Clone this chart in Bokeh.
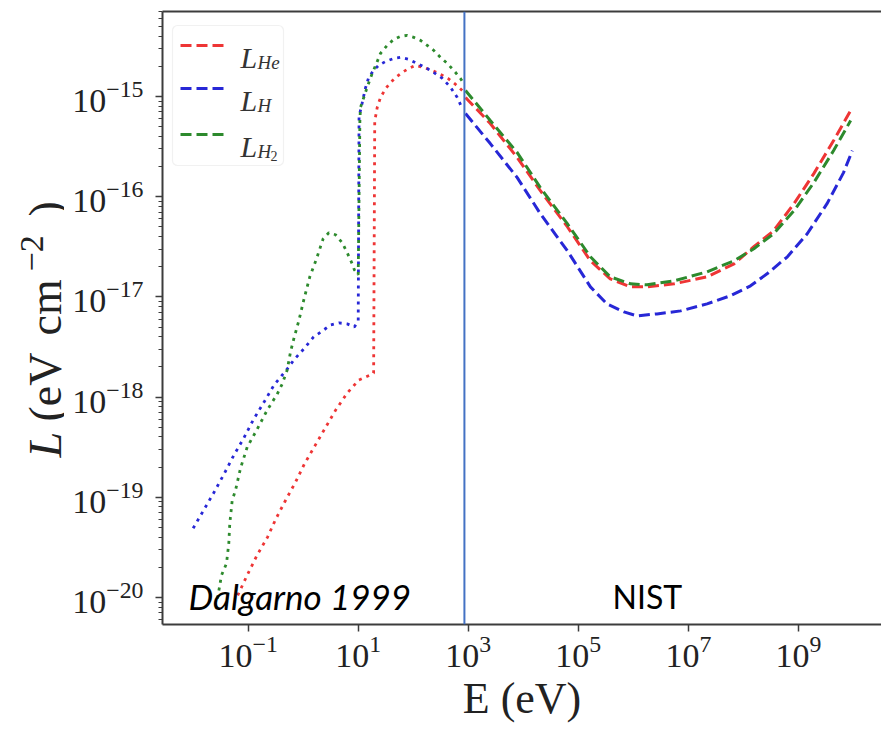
import math
import numpy as np
from bokeh.plotting import figure
from bokeh.layouts import row
from bokeh.models import (FixedTicker, Span, Label, BoxAnnotation, Arrow, LogAxis,
                          Range1d, LogTickFormatter)
from bokeh.embed import file_html
from bokeh.resources import INLINE

# ---------------- data (log10 E [eV], log10 L [eV cm^-2]) ----------------
# Dalgarno 1999 (dotted)
he_dal_logE = [-1.19, -1.02, -0.84, -0.65, -0.50, -0.32, -0.14, 0.02, 0.22, 0.41, 0.59, 0.80,
               1.01, 1.22, 1.28, 1.30, 1.345, 1.405, 1.50, 1.59, 1.68, 1.80, 1.92, 2.04, 2.19,
               2.34, 2.50, 2.63, 2.77, 2.89]
he_dal_logL = [-19.98, -19.78, -19.58, -19.40, -19.22, -19.03, -18.85, -18.67, -18.48, -18.30,
               -18.13, -17.96, -17.83, -17.78, -17.76, -15.25, -15.11, -15.01, -14.92, -14.86,
               -14.81, -14.76, -14.72, -14.69, -14.71, -14.74, -14.78, -14.82, -14.88, -14.94]

h_dal_logE = [-2.00, -1.81, -1.63, -1.44, -1.26, -1.08, -0.90, -0.70, -0.53, -0.29, -0.17, 0.01,
              0.19, 0.35, 0.50, 0.65, 0.80, 0.93, 1.00, 1.015, 1.07, 1.13, 1.19, 1.28, 1.37, 1.50,
              1.65, 1.77, 1.92, 2.07, 2.22, 2.37, 2.53, 2.68, 2.80, 2.89]
h_dal_logL = [-19.31, -19.13, -18.96, -18.77, -18.58, -18.41, -18.22, -18.04, -17.88, -17.72,
              -17.63, -17.52, -17.40, -17.34, -17.28, -17.26, -17.27, -17.30, -17.24, -15.20,
              -15.07, -14.92, -14.81, -14.74, -14.69, -14.65, -14.62, -14.61, -14.63, -14.67,
              -14.71, -14.76, -14.82, -14.91, -15.01, -15.12]

h2_dal_logE = [-1.557, -1.485, -1.394, -1.352, -1.334, -1.290, -1.230, -1.139, -1.018, -0.836,
               -0.654, -0.472, -0.382, -0.291, -0.231, -0.171, -0.080, 0.011, 0.120, 0.242, 0.363,
               0.466, 0.587, 0.709, 0.80, 0.89, 0.93, 1.00, 1.03, 1.041, 1.101, 1.174, 1.254,
               1.332, 1.405, 1.526, 1.646, 1.768, 1.890, 2.010, 2.132, 2.253, 2.373, 2.495, 2.617,
               2.737, 2.858, 2.918]
h2_dal_logL = [-20.01, -19.78, -19.66, -19.46, -19.26, -19.03, -18.93, -18.71, -18.50, -18.32,
               -18.13, -17.97, -17.87, -17.73, -17.55, -17.42, -17.24, -17.03, -16.80, -16.62,
               -16.42, -16.36, -16.38, -16.46, -16.56, -16.67, -16.73, -16.78, -15.25, -15.11,
               -15.01, -14.89, -14.77, -14.67, -14.57, -14.49, -14.43, -14.40, -14.39, -14.41,
               -14.44, -14.49, -14.54, -14.61, -14.67, -14.74, -14.82, -14.87]

# NIST (dashed)
he_nist_logE = [2.95, 3.40, 3.89, 4.31, 4.80, 5.22, 5.58, 5.95, 6.25, 6.74, 7.34, 7.83, 8.19,
                8.55, 8.92, 9.28, 9.64, 9.95]
he_nist_logL = [-15.01, -15.27, -15.61, -15.94, -16.30, -16.64, -16.82, -16.90, -16.90, -16.87,
                -16.80, -16.67, -16.50, -16.34, -16.07, -15.77, -15.44, -15.14]

h_nist_logE = [2.95, 3.40, 3.89, 4.31, 4.80, 5.22, 5.52, 5.83, 6.07, 6.43, 6.86, 7.34, 7.76,
               8.13, 8.43, 8.80, 9.16, 9.52, 9.82, 9.98]
h_nist_logL = [-15.17, -15.47, -15.81, -16.17, -16.54, -16.90, -17.07, -17.15, -17.19, -17.17,
               -17.14, -17.07, -16.99, -16.89, -16.77, -16.60, -16.37, -16.07, -15.76, -15.54]

h2_nist_logE = [2.95, 3.40, 3.89, 4.31, 4.80, 5.22, 5.58, 5.95, 6.25, 6.74, 7.34, 7.83, 8.19,
                8.55, 8.92, 9.28, 9.64, 9.95]
h2_nist_logL = [-14.94, -15.24, -15.56, -15.91, -16.27, -16.60, -16.80, -16.87, -16.88, -16.84,
                -16.75, -16.64, -16.52, -16.37, -16.14, -15.86, -15.54, -15.24]

x_tick_exps = [-1, 1, 3, 5, 7, 9]
y_tick_exps = [-20, -19, -18, -17, -16, -15]
divider_logE = 2.93

# ---------------- layout ----------------
W, H = 881, 744
YW = 64                      # strip holding the y-axis title
FL, FT, FR, FB = 162, 11, 881, 624   # frame edges in page pixels
XLMIN, XLMAX = -2.557, 10.51
YLMIN, YLMAX = -20.27, -14.152

RED, BLUE, GREEN = "#ee3535", "#2727d6", "#2d8a2d"
SERIF = "Liberation Serif"
TXT = "#222222"


def dx(px):
    return 10 ** (XLMIN + (px - FL) / (FR - FL) * (XLMAX - XLMIN))


def dy(py):
    return 10 ** (YLMAX - (py - FT) / (FB - FT) * (YLMAX - YLMIN))


p = figure(width=W - YW, height=H, x_axis_type="log", y_axis_type="log",
           x_range=Range1d(10 ** XLMIN, 10 ** XLMAX), y_range=Range1d(10 ** YLMIN, 10 ** YLMAX),
           output_backend="svg", toolbar_location=None,
           min_border_left=FL - YW, min_border_right=W - FR, min_border_top=FT,
           min_border_bottom=H - FB)
p.grid.visible = False
p.outline_line_color = None
p.background_fill_color = "white"
p.border_fill_color = "white"

for ax in (p.xaxis[0], p.yaxis[0]):
    ax.axis_line_color = "#3c3c3c"
    ax.axis_line_width = 2
    ax.major_tick_line_color = "#3c3c3c"
    ax.minor_tick_line_color = "#3c3c3c"
    ax.major_tick_line_width = 1.5
    ax.minor_tick_line_width = 1.2
    ax.major_tick_in = 0
    ax.minor_tick_in = 0
    ax.major_tick_out = 7
    ax.minor_tick_out = 4
    ax.major_label_text_font = SERIF
    ax.major_label_text_font_size = "34px"
    ax.major_label_text_color = TXT
    ax.formatter = LogTickFormatter()

p.xaxis.ticker = FixedTicker(ticks=[10.0 ** k for k in x_tick_exps], minor_ticks=[])
p.yaxis.ticker = FixedTicker(ticks=[10.0 ** k for k in y_tick_exps],
                             minor_ticks=[m * 10.0 ** k for k in range(-21, -14) for m in range(2, 10)])
p.xaxis.major_label_standoff = 4
p.yaxis.major_label_standoff = 12
p.xaxis.axis_label = "E (eV)"
p.xaxis.axis_label_text_font = SERIF
p.xaxis.axis_label_text_font_size = "44px"
p.xaxis.axis_label_text_font_style = "normal"
p.xaxis.axis_label_text_color = TXT
p.xaxis.axis_label_standoff = 4

top = LogAxis(ticker=FixedTicker(ticks=[]), major_label_text_font_size="0px",
              axis_line_color="#3c3c3c", axis_line_width=2, major_tick_out=0, major_tick_in=0,
              minor_tick_out=0, minor_tick_in=0, major_label_standoff=0)
p.add_layout(top, "above")

# ---------------- curves ----------------
def L(a):
    return 10 ** np.array(a, dtype=float)

dot = dict(line_width=2.8, line_dash="3 5")
dash = dict(line_width=3, line_dash="11 5")
p.line(L(he_dal_logE), L(he_dal_logL), color=RED, **dot)
p.line(L(h_dal_logE), L(h_dal_logL), color=BLUE, **dot)
p.line(L(h2_dal_logE), L(h2_dal_logL), color=GREEN, **dot)
p.line(L(he_nist_logE), L(he_nist_logL), color=RED, **dash)
p.line(L(h_nist_logE), L(h_nist_logL), color=BLUE, **dash)
p.line(L(h2_nist_logE), L(h2_nist_logL), color=GREEN, **dash)

p.add_layout(Span(location=10 ** divider_logE, dimension="height", line_color="#4472c4",
                  line_width=2))

# ---------------- legend ----------------
p.add_layout(BoxAnnotation(left=dx(172), right=dx(283), top=dy(25), bottom=dy(165),
                           fill_color="white", fill_alpha=1.0, line_color="#cfcfcf",
                           line_width=1.2, border_radius=5))
legend_items = [(45, RED, "He", None), (88, BLUE, "H", None), (134, GREEN, "H", "2")]
for ypx, col, sub, sub2 in legend_items:
    p.add_layout(Arrow(end=None, x_start=dx(180), y_start=dy(ypx), x_end=dx(223), y_end=dy(ypx),
                       line_color=col, line_width=3, line_dash="11 5"))
    p.add_layout(Label(x=dx(240), y=dy(ypx + 12), text="L", text_font=SERIF,
                       text_font_style="italic", text_font_size="30px", text_color="#333333",
                       text_baseline="alphabetic"))
    p.add_layout(Label(x=dx(257), y=dy(ypx + 17), text=sub, text_font=SERIF,
                       text_font_style="italic", text_font_size="19px", text_color="#333333",
                       text_baseline="alphabetic"))
    if sub2:
        p.add_layout(Label(x=dx(270), y=dy(ypx + 21), text=sub2, text_font=SERIF,
                           text_font_size="14px", text_color="#333333",
                           text_baseline="alphabetic"))

# ---------------- annotations ----------------
p.add_layout(Label(x=dx(188), y=dy(595), text="Dalgarno 1999", text_font="Lato",
                   text_font_style="italic", text_font_size="35px", text_color="black",
                   text_baseline="alphabetic"))
p.add_layout(Label(x=dx(612), y=dy(596), text="NIST", text_font="Lato",
                   text_font_size="32px", text_color="black", text_baseline="alphabetic"))

# ---------------- y-axis title strip (left) ----------------
# its frame is aligned with the main frame, so page-pixel y == data y here
ylab = figure(width=YW, height=H, x_range=Range1d(0, YW), y_range=Range1d(FB, FT),
              output_backend="svg", toolbar_location=None, x_axis_location=None,
              y_axis_location=None, min_border=0)
ylab.grid.visible = False
ylab.outline_line_color = None
ylab.background_fill_color = "white"
ylab.border_fill_color = "white"

base_x = 45
# (text, style, font px, start y (bottom end), raise)
parts = [("L", "italic", 46, 457, 0),
         ("(eV", "normal", 46, 421, 0),
         ("cm", "normal", 46, 335, 0),
         ("\u22122", "normal", 34, 271, 14),
         (")", "normal", 46, 216, 0)]
for txt, style, size, ystart, raise_px in parts:
    ylab.add_layout(Label(x=base_x - raise_px, y=ystart, text=txt, text_font=SERIF,
                          text_font_style=style, text_font_size=f"{size}px", text_color=TXT,
                          angle=math.pi / 2, text_align="left", text_baseline="alphabetic"))

layout = row(ylab, p, spacing=0)
open("out.html", "w").write(file_html(layout, INLINE))
